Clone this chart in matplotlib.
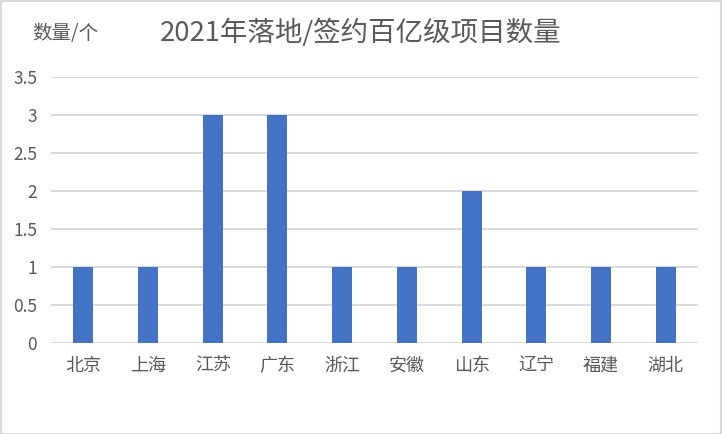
import matplotlib
matplotlib.use("Agg")
import matplotlib.pyplot as plt
from matplotlib.patches import Rectangle

plt.rcParams['font.family'] = ['Noto Sans CJK SC', 'DejaVu Sans']

categories = ["北京", "上海", "江苏", "广东", "浙江", "安徽", "山东", "辽宁", "福建", "湖北"]
values = [1, 1, 3, 3, 1, 1, 2, 1, 1, 1]
yticks = [0, 0.5, 1, 1.5, 2, 2.5, 3, 3.5]
ytick_labels = ["0", "0.5", "1", "1.5", "2", "2.5", "3", "3.5"]

W, H = 722, 434
fig = plt.figure(figsize=(W / 100, H / 100), dpi=100)
ax = fig.add_axes([51 / W, 1 - 343 / H, (698 - 51) / W, (343 - 77) / H])

text_color = "#595959"
grid_color = "#D9D9D9"

x = list(range(len(categories)))
ax.bar(x, values, width=0.31, color="#4472C4", zorder=3)
ax.set_xlim(-0.5, len(categories) - 0.5)
ax.set_ylim(0, 3.5)
ax.set_yticks(yticks)
ax.set_yticklabels(ytick_labels)
ax.set_xticks(x)
ax.set_xticklabels(categories)
ax.grid(axis="y", color=grid_color, linewidth=1.4, zorder=0)
for s in ax.spines.values():
    s.set_visible(False)
ax.tick_params(axis="x", length=0, labelcolor=text_color, labelsize=13, pad=10)
ax.tick_params(axis="y", length=0, labelcolor=text_color, labelsize=12.5, pad=10)

fig.text(361 / W, 1 - 33 / H, "2021年落地/签约百亿级项目数量", ha="center", va="center",
         fontsize=19.8, color=text_color)
fig.text(65.5 / W, 1 - 33 / H, "数量/个", ha="center", va="center",
         fontsize=14, color=text_color)

fig.patches.append(Rectangle((0.5 / W, 0.5 / H), 1 - 1.5 / W, 1 - 1.5 / H,
                             transform=fig.transFigure, fill=False,
                             edgecolor="#D9D9D9", linewidth=1.5))

fig.savefig("out.png", dpi=100)
